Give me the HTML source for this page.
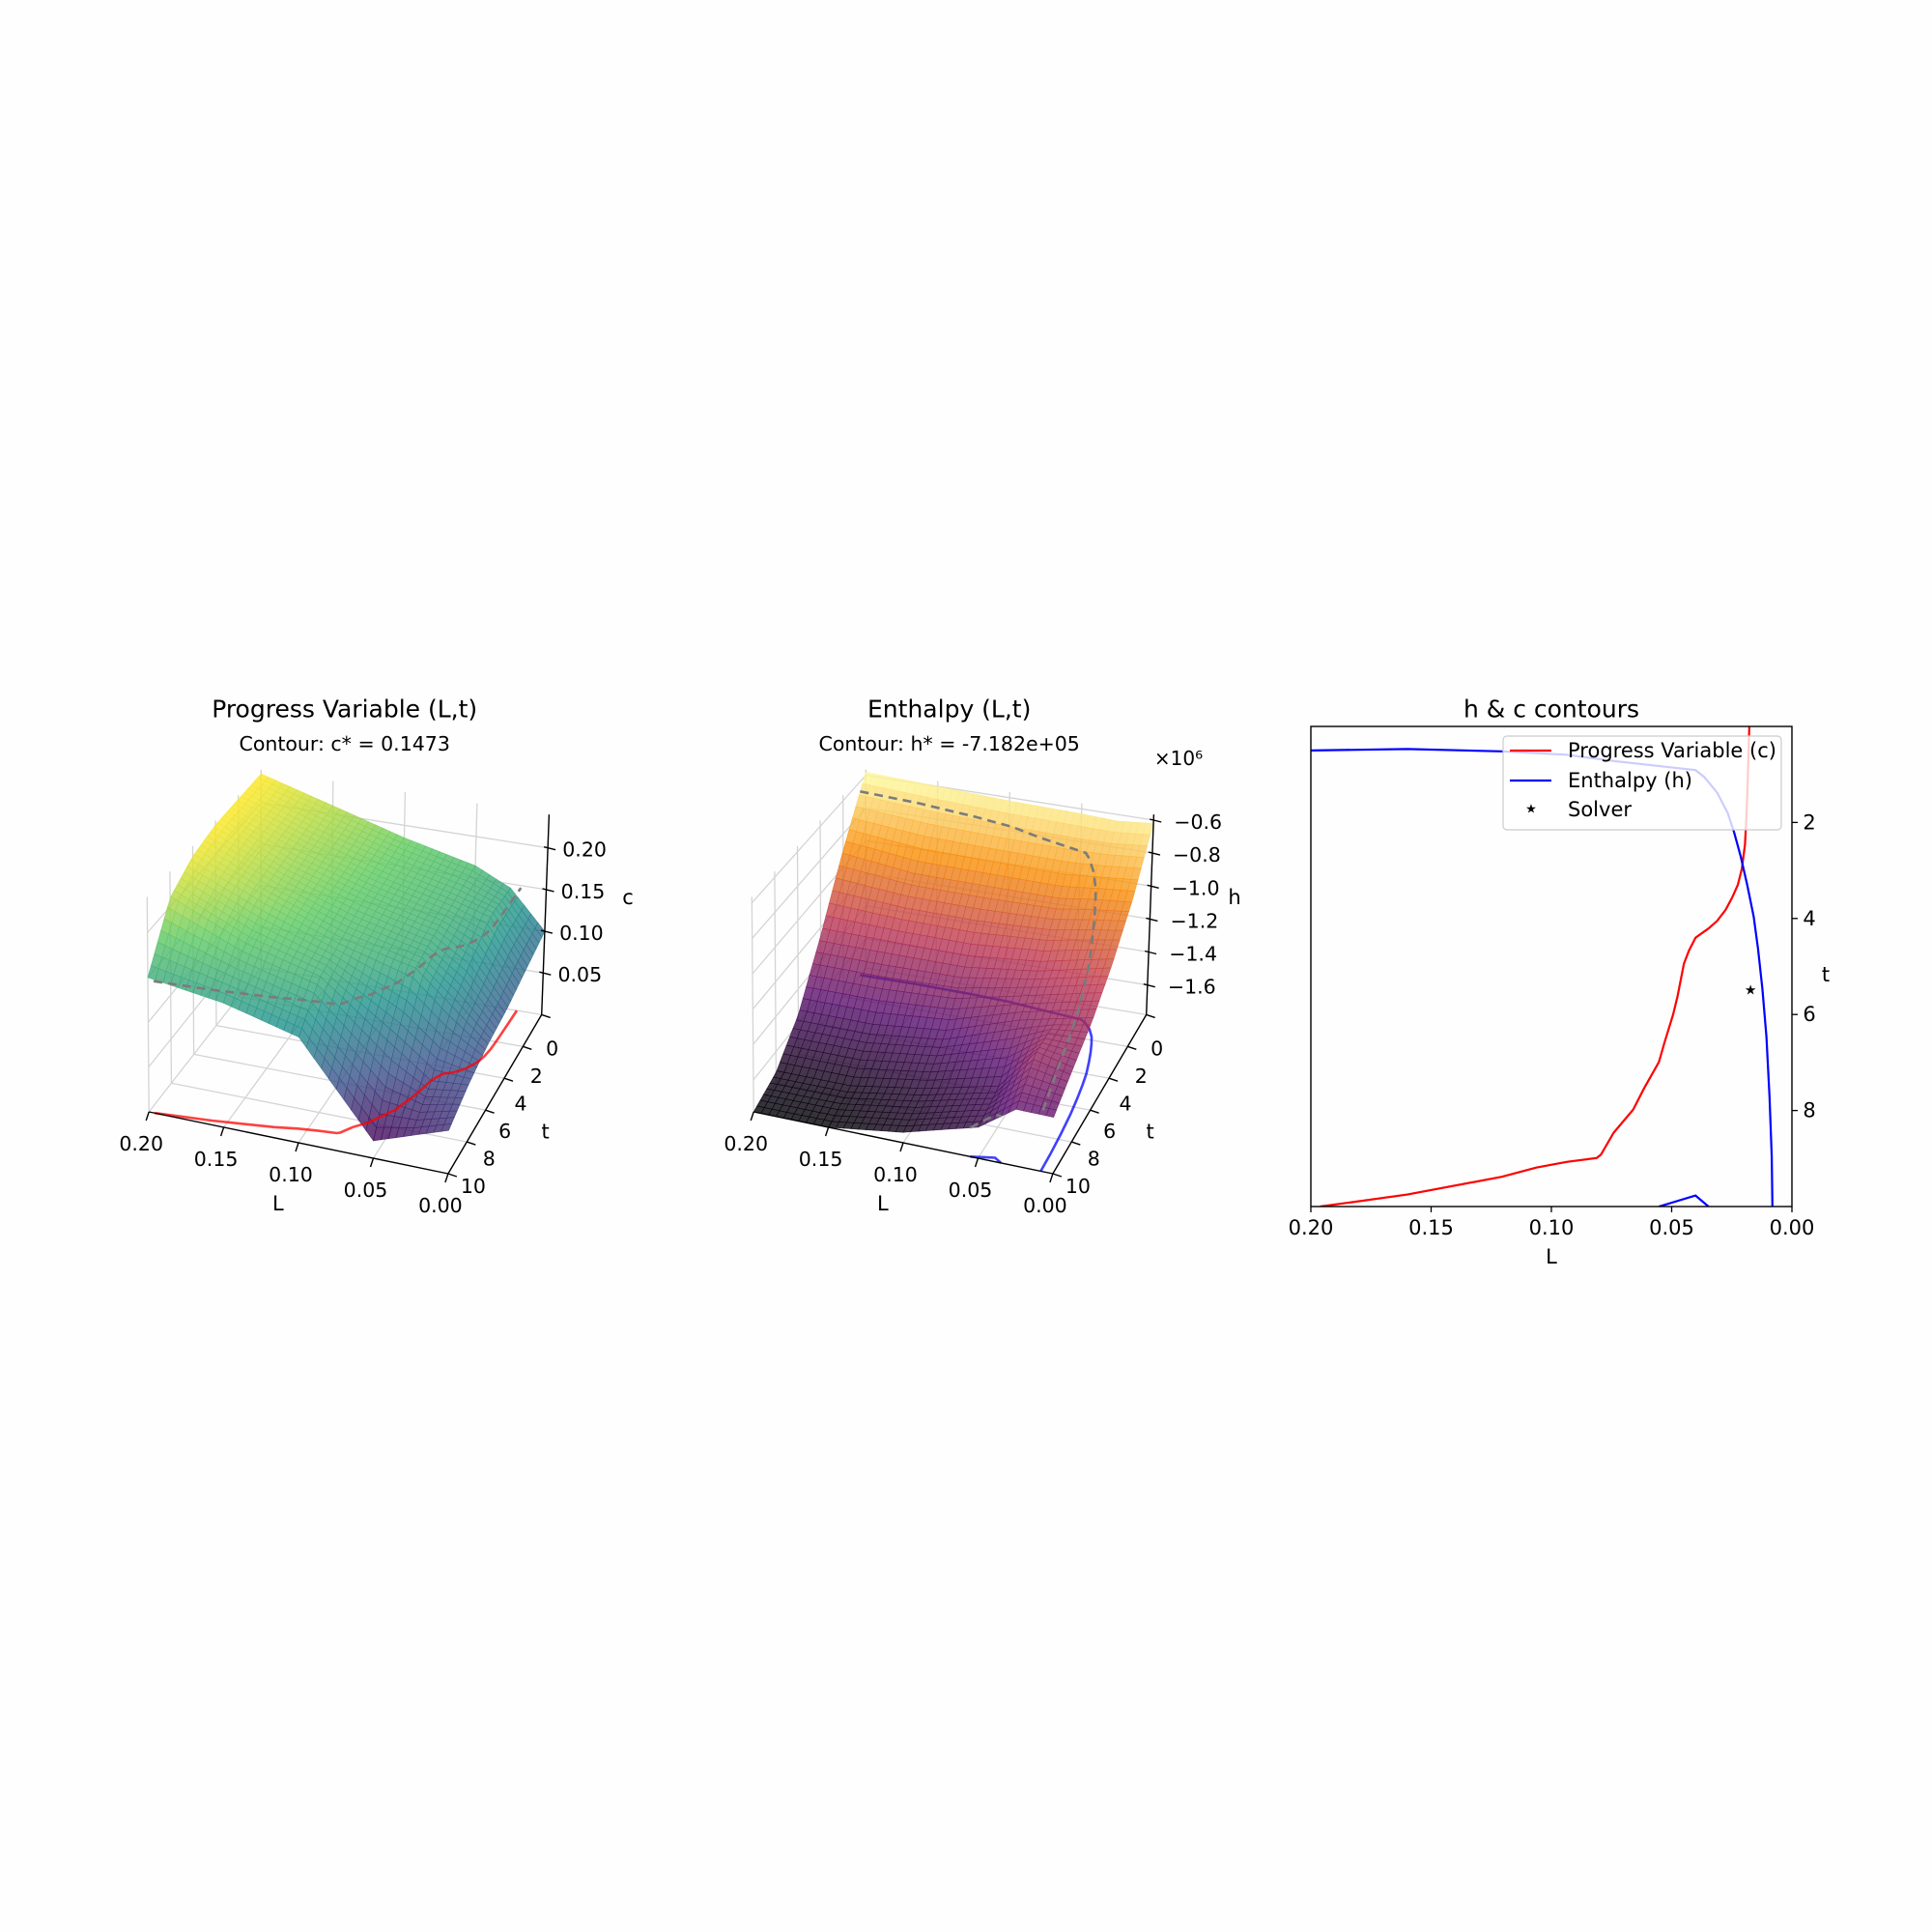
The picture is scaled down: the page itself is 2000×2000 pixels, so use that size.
<!DOCTYPE html>
<html><head><meta charset="utf-8"><style>
html,body{margin:0;padding:0;background:#fefefe;}
svg{display:block;font-family:"DejaVu Sans","Liberation Sans",sans-serif;}
</style></head>
<body>
<svg id="fig" width="2000" height="2000" viewBox="0 0 2000 2000" xmlns="http://www.w3.org/2000/svg">
<rect x="0" y="0" width="2000" height="2000" fill="#fefefe"/>
<g id="p1"></g>
<g id="p2"></g>
<g id="p3"></g>
</svg>
<script>
// ---------- data ----------
const gridL = [0.2, 0.15, 0.1, 0.05, 0.025, 0];
const gridT = [0, 2, 4, 6, 8, 10];
const cVals = [
  [0.235, 0.21, 0.185, 0.165, 0.145, 0.10],
  [0.235, 0.205, 0.18, 0.16, 0.148, 0.09],
  [0.235, 0.20, 0.175, 0.155, 0.13, 0.08],
  [0.228, 0.195, 0.165, 0.147, 0.11, 0.075],
  [0.21, 0.175, 0.155, 0.09, 0.06, 0.065],
  [0.15, 0.14, 0.12, 0.02, 0.035, 0.05]
];
const hVals = [
  [-0.58, -0.60, -0.62, -0.63, -0.64, -0.62],
  [-0.90, -0.95, -0.95, -0.95, -0.92, -0.90],
  [-1.25, -1.25, -1.25, -1.20, -1.15, -1.10],
  [-1.55, -1.55, -1.50, -1.35, -1.30, -1.25],
  [-1.72, -1.72, -1.65, -1.55, -1.30, -1.35],
  [-1.78, -1.78, -1.72, -1.60, -1.45, -1.45]
];
const cStar = 0.1473;
const hStar = -0.7182;
const redL = [0.1961,0.1599,0.1206,0.1063,0.0937,0.0812,0.0794,0.0741,0.0660,0.0615,0.0553,0.0530,0.0494,0.0476,0.0449,0.0428,0.0401,0.0347,0.0311,0.0276,0.0249,0.0225,0.0208,0.0195,0.0190,0.0186,0.0182,0.0177];
const redT = [10.0,9.75,9.38,9.19,9.07,8.99,8.92,8.46,7.98,7.54,6.99,6.59,6.00,5.63,4.94,4.67,4.40,4.21,4.05,3.82,3.57,3.30,2.96,2.46,1.96,1.46,0.80,0.0];
const blueL = [0.2,0.1599,0.1206,0.0937,0.0741,0.0401,0.0365,0.0311,0.0267,0.0240,0.0213,0.0186,0.0159,0.0141,0.0123,0.0106,0.0093,0.0084,0.0081];
const blueT = [0.50,0.47,0.52,0.59,0.72,0.91,1.05,1.38,1.80,2.21,2.71,3.30,3.96,4.63,5.46,6.46,7.71,8.96,10.0];
const blue2L = [0.0553,0.0401,0.0347];
const blue2T = [10.0,9.77,10.0];
const solverL = [0.0172];
const solverT = [5.50];
const lTicks = [0.2, 0.15, 0.1, 0.05, 0];
const lTickLabels = ["0.20","0.15","0.10","0.05","0.00"];
const tTicks3d = [0, 2, 4, 6, 8, 10];
const tTicks2d = [2, 4, 6, 8];
const cTicks = [0.05, 0.10, 0.15, 0.20];
const cTickLabels = ["0.05","0.10","0.15","0.20"];
const hTicks = [-0.6, -0.8, -1.0, -1.2, -1.4, -1.6];
const hTickLabels = ["\u22120.6","\u22120.8","\u22121.0","\u22121.2","\u22121.4","\u22121.6"];

// ---------- helpers ----------
const NS = "http://www.w3.org/2000/svg";
function mk(parent, tag, attrs, text) {
  const e = document.createElementNS(NS, tag);
  for (const k in attrs) e.setAttribute(k, attrs[k]);
  if (text !== undefined) e.textContent = text;
  parent.appendChild(e);
  return e;
}
function lerp(a, b, f) { return a + (b - a) * f; }
function interpGrid(vals, L, t) {
  let i = 0; while (i < gridL.length - 2 && L < gridL[i + 1]) i++;
  let j = 0; while (j < gridT.length - 2 && t > gridT[j + 1]) j++;
  const fu = (gridL[i] - L) / (gridL[i] - gridL[i + 1]);
  const fv = (t - gridT[j]) / (gridT[j + 1] - gridT[j]);
  const a = lerp(vals[j][i], vals[j][i + 1], fu);
  const b = lerp(vals[j + 1][i], vals[j + 1][i + 1], fu);
  return lerp(a, b, fv);
}
function cmap(stops, f) {
  f = Math.max(0, Math.min(1, f));
  const n = stops.length - 1, k = Math.min(n - 1, Math.floor(f * n)), g = f * n - k;
  const a = stops[k], b = stops[k + 1];
  return "rgb(" + [0, 1, 2].map(q => Math.round(lerp(a[q], b[q], g))).join(",") + ")";
}
const viridis = [[68,1,84],[59,82,139],[33,145,140],[94,201,98],[253,231,37]];
const inferno = [[0,0,4],[87,16,110],[188,55,84],[249,142,9],[252,255,164]];

function makeProj(dx) {
  const A=[154.2,1151],B=[463.9,1215],C=[560.7,1050.4],D=[270.3,1002];
  const A2=[152.3,928.4],B2=[466.8,1000],C2=[568.4,843.2],D2=[270.3,796.8];
  function bil(P, u, v, q) {
    return (1-u)*(1-v)*P[2][q] + u*(1-v)*P[3][q] + u*v*P[0][q] + (1-u)*v*P[1][q];
  }
  const F=[A,B,C,D], T=[A2,B2,C2,D2];
  return function(L, t, w) {
    const u = L / 0.2, v = t / 10;
    const x0 = bil(F,u,v,0), y0 = bil(F,u,v,1), x1 = bil(T,u,v,0), y1 = bil(T,u,v,1);
    return [lerp(x0, x1, w) + dx, lerp(y0, y1, w)];
  };
}

function draw3d(g, dx, vals, zmin, zmax, stops, tickVals, tickLabels, tickOff, floorSets, floorColor, floorFirst, title, subtitle, zLabel, zLabelPos, extra) {
  const P = makeProj(dx);
  const wz = z => (z - zmin) / (zmax - zmin);
  const grid = mk(g, "g", {  stroke: "#d4d4d4", "stroke-width": "1.3", fill: "none"});
  function line(par, a, b, extraAttrs) {
    return mk(par, "line", Object.assign({x1: a[0].toFixed(1), y1: a[1].toFixed(1), x2: b[0].toFixed(1), y2: b[1].toFixed(1)}, extraAttrs || {}));
  }
  lTicks.forEach(L => line(grid, P(L,0,0), P(L,10,0)));
  tTicks3d.forEach(t => line(grid, P(0,t,0), P(0.2,t,0)));
  lTicks.forEach(L => line(grid, P(L,0,0), P(L,0,1)));
  tickVals.forEach(z => line(grid, P(0,0,wz(z)), P(0.2,0,wz(z))));
  tTicks3d.forEach(t => line(grid, P(0.2,t,0), P(0.2,t,1)));
  tickVals.forEach(z => line(grid, P(0.2,0,wz(z)), P(0.2,10,wz(z))));
  function floorLines() {
    floorSets.forEach((fs, k) => {
      const d = fs[0].map((L, i) => (i ? "L" : "M") + P(L, fs[1][i], 0).map(n => n.toFixed(1)).join(",")).join(" ");
      const e = mk(g, "path", {d, fill: "none", stroke: floorColor, "stroke-width": "2.6", "stroke-opacity": "0.75"});
      
      
    });
  }
  if (floorFirst) floorLines();
  const surf = mk(g, "g", { });
  let vmin = Infinity, vmax = -Infinity;
  vals.forEach(r => r.forEach(v => { vmin = Math.min(vmin, v); vmax = Math.max(vmax, v); }));
  const NL = 40, NT = 34, quads = [];
  for (let a = 0; a < NL; a++) for (let b = 0; b < NT; b++) {
    const L0 = 0.2 * a / NL, L1 = 0.2 * (a + 1) / NL, t0 = 10 * b / NT, t1 = 10 * (b + 1) / NT;
    const pts = [[L0,t0],[L1,t0],[L1,t1],[L0,t1]].map(p => [p[0], p[1], interpGrid(vals, p[0], p[1])]);
    const avg = pts.reduce((s, p) => s + p[2], 0) / 4;
    const depth = (L0 + L1) / 0.4 + (1 - (t0 + t1) / 20);
    quads.push({pts, avg, depth});
  }
  quads.sort((p, q) => q.depth - p.depth);
  quads.forEach(qd => {
    const col = cmap(stops, (qd.avg - vmin) / (vmax - vmin));
    const s = qd.pts.map(p => P(p[0], p[1], wz(p[2])).map(n => n.toFixed(1)).join(",")).join(" ");
    const e = mk(surf, "polygon", {points: s, fill: col, stroke: col, "stroke-width": "0.6", "fill-opacity": "0.8", "stroke-opacity": "0.8"});
    
    
  });
  if (!floorFirst) floorLines();
  floorSets.forEach((fs, k) => {
    const d = fs[0].map((L, i) => (i ? "L" : "M") + P(L, fs[1][i], extra(L, fs[1][i])).map(n => n.toFixed(1)).join(",")).join(" ");
    const e = mk(g, "path", {d, fill: "none", stroke: "#7b7b7b", "stroke-width": "2.6", "stroke-dasharray": "9,6"});
    
    
  });
  const ax = mk(g, "g", {  stroke: "#000", "stroke-width": "1.4"});
  line(ax, P(0.2,10,0), P(0,10,0));
  line(ax, P(0,10,0), P(0,0,0));
  line(ax, P(0,0,0), P(0,0,1));
  const lab = mk(g, "g", {  "font-size": "20.5", fill: "#000", "text-anchor": "middle", "dominant-baseline": "central"});
  lTicks.forEach((L, i) => {
    const p = P(L,10,0);
    line(ax, p, [p[0]-3, p[1]+9]);
    const e = mk(lab, "text", {x: (p[0]-8).toFixed(1), y: (p[1]+33).toFixed(1)}, lTickLabels[i]);
    
    
  });
  tTicks3d.forEach(t => {
    const p = P(0,t,0), f = t / 10;
    line(ax, p, [p[0]+9, p[1]+3]);
    const e = mk(lab, "text", {x: (p[0]+lerp(11,26,f)).toFixed(1), y: (p[1]+lerp(35,13,f)).toFixed(1)}, String(t));
    
    
  });
  tickVals.forEach((z, i) => {
    const p = P(0,0,wz(z));
    line(ax, [p[0]-4, p[1]-1], [p[0]+8, p[1]+2]);
    const e = mk(lab, "text", {x: (p[0]+tickOff).toFixed(1), y: (p[1]+2).toFixed(1)}, tickLabels[i]);
    
    
  });
  const ttl = mk(g, "text", {x: dx + 356.7, y: 734, "font-size": "25", "text-anchor": "middle", "dominant-baseline": "central"}, title);
  
  
  const st = mk(g, "text", {x: dx + 356.7, y: 770, "font-size": "20.5", "text-anchor": "middle", "dominant-baseline": "central"}, subtitle);
  
  
  const xl = mk(g, "text", {x: dx + 287.8, y: 1246, "font-size": "21", "text-anchor": "middle", "dominant-baseline": "central"}, "L");
  
  
  const yl = mk(g, "text", {x: dx + 564.6, y: 1171.5, "font-size": "21", "text-anchor": "middle", "dominant-baseline": "central"}, "t");
  
  
  const zl = mk(g, "text", {x: zLabelPos[0], y: zLabelPos[1], "font-size": "21", "text-anchor": "middle", "dominant-baseline": "central"}, zLabel);
  
  
}

draw3d(document.getElementById("p1"), 0, cVals, 0.0, 0.24, viridis, cTicks, cTickLabels, 38,
  [[redL, redT]], "#ff0000", false, "Progress Variable (L,t)", "Contour: c* = 0.1473", "c", [650, 929],
  (L, t) => cStar / 0.24);
draw3d(document.getElementById("p2"), 626, hVals, -1.78, -0.566, inferno, hTicks, hTickLabels, 46,
  [[blueL, blueT], [blue2L, blue2T]], "#0000ff", true, "Enthalpy (L,t)", "Contour: h* = -7.182e+05", "h", [1278, 929],
  (L, t) => (interpGrid(hVals, L, t) + 1.78) / 1.214);
(function(){
  const g = document.getElementById("p2");
  const e = mk(g, "text", {x: 1220, y: 785, "font-size": "20", "text-anchor": "middle", "dominant-baseline": "central"}, "\u00d710\u2076");
  
  
})();

(function(){
  const g = document.getElementById("p3");
  const x0 = 1357, x1 = 1855, y0 = 752, y1 = 1249;
  const X = L => x0 + (0.2 - L) / 0.2 * (x1 - x0);
  const Y = t => y0 + t / 10 * (y1 - y0);
  const clip = mk(g, "clipPath", {id: "c3"});
  mk(clip, "rect", {x: x0, y: y0, width: x1 - x0, height: y1 - y0});
  const pl = mk(g, "g", {"clip-path": "url(#c3)",  });
  function path(Ls, Ts, color, name) {
    const d = Ls.map((L, i) => (i ? "L" : "M") + X(L).toFixed(1) + "," + Y(Ts[i]).toFixed(1)).join(" ");
    const e = mk(pl, "path", {d, fill: "none", stroke: color, "stroke-width": "2.2"});
    
    
  }
  path(redL, redT, "#ff0000", "c-contour-line");
  path(blueL, blueT, "#0000ff", "h-contour-line");
  path(blue2L, blue2T, "#0000ff", "h-contour-line-2");
  solverL.forEach((L, i) => {
    const e = mk(pl, "text", {x: X(L).toFixed(1), y: Y(solverT[i]).toFixed(1), "font-size": "14", "text-anchor": "middle", "dominant-baseline": "central"}, "\u2605");
    
    
  });
  const fr = mk(g, "rect", {x: x0, y: y0, width: x1 - x0, height: y1 - y0, fill: "none", stroke: "#000", "stroke-width": "1.4"});
  
  
  const lab = mk(g, "g", {"font-size": "21", "text-anchor": "middle", "dominant-baseline": "central",  });
  lTicks.forEach((L, i) => {
    mk(g, "line", {x1: X(L), y1: y1, x2: X(L), y2: y1 + 6, stroke: "#000", "stroke-width": "1.3"});
    const e = mk(lab, "text", {x: X(L), y: y1 + 22}, lTickLabels[i]);
    
    
  });
  tTicks2d.forEach(t => {
    mk(g, "line", {x1: x1, y1: Y(t), x2: x1 + 6, y2: Y(t), stroke: "#000", "stroke-width": "1.3"});
    const e = mk(lab, "text", {x: x1 + 18, y: Y(t)}, String(t));
    
    
  });
  const tt = mk(g, "text", {x: (x0 + x1) / 2, y: 734, "font-size": "25", "text-anchor": "middle", "dominant-baseline": "central"}, "h & c contours");
  
  
  const xl = mk(g, "text", {x: (x0 + x1) / 2, y: 1301, "font-size": "21", "text-anchor": "middle", "dominant-baseline": "central"}, "L");
  
  
  const yl = mk(g, "text", {x: 1890, y: 1009, "font-size": "21", "text-anchor": "middle", "dominant-baseline": "central"}, "t");
  
  
  const lg = mk(g, "g", { });
  mk(lg, "rect", {x: 1556, y: 762, width: 288, height: 97, rx: 4, fill: "#ffffff", "fill-opacity": "0.8", stroke: "#cccccc", "stroke-width": "1.2"});
  const rows = [["Progress Variable (c)", "#ff0000", 777], ["Enthalpy (h)", "#0000ff", 808], ["Solver", null, 838]];
  rows.forEach(r => {
    const ent = mk(lg, "g", {});
    
    
    if (r[1]) mk(ent, "line", {x1: 1563, y1: r[2], x2: 1606, y2: r[2], stroke: r[1], "stroke-width": "2.2"});
    else mk(ent, "text", {x: 1585, y: r[2], "font-size": "13", "text-anchor": "middle", "dominant-baseline": "central"}, "\u2605");
    mk(ent, "text", {x: 1623, y: r[2], "font-size": "21", "dominant-baseline": "central"}, r[0]);
  });
})();
</script>
</body></html>
